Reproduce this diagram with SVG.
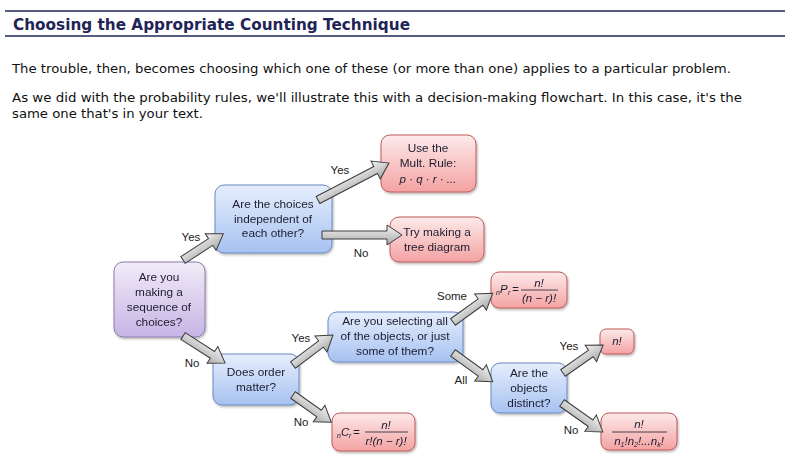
<svg xmlns="http://www.w3.org/2000/svg" width="796" height="474" viewBox="0 0 796 474">
<defs>
<style>
.title{font-family:"DejaVu Sans",Verdana,sans-serif;font-weight:bold;font-size:15px;fill:#1f2456}
.body{font-family:"DejaVu Sans",Tahoma,sans-serif;font-size:12.5px;fill:#111}
.nt{font-family:"Liberation Sans",Arial,sans-serif;font-size:11.8px;fill:#1c1c30;text-anchor:middle}
.lab{font-family:"Liberation Sans",Arial,sans-serif;font-size:11.5px;fill:#222;text-anchor:middle}
.fm{font-family:"Liberation Sans",Arial,sans-serif;font-size:11.5px;font-style:italic;fill:#1c1c30}
.fs{font-family:"Liberation Sans",Arial,sans-serif;font-size:7px;font-style:italic;fill:#1c1c30}
.blue{fill:url(#gBlue);stroke:#6b8ac0;stroke-width:1}
.red{fill:url(#gRed);stroke:#c05a5a;stroke-width:1}
.purple{fill:url(#gPur);stroke:#8c7aaa;stroke-width:1}
.box{filter:url(#sh)}
.arr{fill:url(#gArr);stroke:#3c3c3c;stroke-width:1;stroke-linejoin:miter}
.fl{stroke:#1c1c30;stroke-width:0.8}
.hl{stroke:#1f2456;stroke-width:1.5}
</style>
<linearGradient id="gBlue" x1="0" y1="0" x2="0" y2="1"><stop offset="0" stop-color="#e6eefc"/><stop offset="1" stop-color="#a6c2f1"/></linearGradient>
<linearGradient id="gRed" x1="0" y1="0" x2="0" y2="1"><stop offset="0" stop-color="#fdeaea"/><stop offset="1" stop-color="#f4a2a2"/></linearGradient>
<linearGradient id="gPur" x1="0" y1="0" x2="0" y2="1"><stop offset="0" stop-color="#f1ecf8"/><stop offset="1" stop-color="#c7b4e5"/></linearGradient>
<linearGradient id="gArr" x1="0" y1="0" x2="0" y2="1"><stop offset="0" stop-color="#f4f4f4"/><stop offset="1" stop-color="#a9a9a9"/></linearGradient>
<filter id="sh" x="-10%" y="-10%" width="130%" height="140%"><feDropShadow dx="1" dy="1.5" stdDeviation="1.2" flood-color="#000" flood-opacity="0.3"/></filter>
</defs>
<rect width="796" height="474" fill="#fff"/>
<g id="header">
<line class="hl" x1="5" y1="11" x2="785" y2="11"/>
<text class="title" x="13" y="30" textLength="397" lengthAdjust="spacingAndGlyphs">Choosing the Appropriate Counting Technique</text>
<line class="hl" x1="5" y1="36" x2="785" y2="36"/>
<text class="body" x="12" y="73" textLength="719" lengthAdjust="spacingAndGlyphs">The trouble, then, becomes choosing which one of these (or more than one) applies to a particular problem.</text>
<text class="body" x="12" y="102" textLength="730" lengthAdjust="spacingAndGlyphs">As we did with the probability rules, we'll illustrate this with a decision-making flowchart. In this case, it's the</text>
<text class="body" x="12" y="118" textLength="191" lengthAdjust="spacingAndGlyphs">same one that's in your text.</text>
</g>
<g id="n-start" class="box"><rect class="purple" x="114" y="262" width="91" height="75" rx="9"/>
<text class="nt" x="159" y="281">Are you</text><text class="nt" x="159" y="296">making a</text><text class="nt" x="159" y="311">sequence of</text><text class="nt" x="159" y="326">choices?</text></g>
<g id="n-indep" class="box"><rect class="blue" x="215" y="185" width="117" height="68" rx="9"/>
<text class="nt" x="273" y="208">Are the choices</text><text class="nt" x="273" y="223">independent of</text><text class="nt" x="273" y="237">each other?</text></g>
<g id="n-mult" class="box"><rect class="red" x="381" y="135" width="95" height="57" rx="9"/>
<text class="nt" x="428" y="152">Use the</text><text class="nt" x="428" y="167">Mult. Rule:</text><text class="fm" x="428" y="183" text-anchor="middle" font-size="9.5">p · q · r · ...</text></g>
<g id="n-tree" class="box"><rect class="red" x="390" y="217" width="94" height="45" rx="9"/>
<text class="nt" x="437" y="236">Try making a</text><text class="nt" x="437" y="251">tree diagram</text></g>
<g id="n-order" class="box"><rect class="blue" x="213" y="354" width="86" height="51" rx="9"/>
<text class="nt" x="256" y="376">Does order</text><text class="nt" x="256" y="391">matter?</text></g>
<g id="n-select" class="box"><rect class="blue" x="328" y="312" width="135" height="50" rx="9"/>
<text class="nt" x="395" y="325">Are you selecting all</text><text class="nt" x="395" y="340">of the objects, or just</text><text class="nt" x="395" y="355">some of them?</text></g>
<g id="n-ncr" class="box"><rect class="red" x="332" y="413" width="83" height="38" rx="8"/>
<text class="fs" x="337" y="438">n</text><text class="fm" x="341" y="436">C</text><text class="fs" x="349" y="438">r</text><text class="fm" x="353" y="436" font-style="normal">=</text>
<text class="fm" x="386" y="429" text-anchor="middle">n!</text><line class="fl" x1="365" y1="432" x2="408" y2="432"/><text class="fm" x="386" y="445" text-anchor="middle">r!(n − r)!</text></g>
<g id="n-npr" class="box"><rect class="red" x="491" y="272" width="76" height="36" rx="8"/>
<text class="fs" x="496" y="295">n</text><text class="fm" x="500" y="293">P</text><text class="fs" x="508" y="295">r</text><text class="fm" x="512" y="293" font-style="normal">=</text>
<text class="fm" x="539" y="287" text-anchor="middle">n!</text><line class="fl" x1="521" y1="290" x2="558" y2="290"/><text class="fm" x="539" y="302" text-anchor="middle">(n − r)!</text></g>
<g id="n-nfact" class="box"><rect class="red" x="600" y="329" width="34" height="25" rx="6"/>
<text class="fm" x="617" y="345" text-anchor="middle">n!</text></g>
<g id="n-distinct" class="box"><rect class="blue" x="491" y="363" width="76" height="50" rx="9"/>
<text class="nt" x="529" y="377">Are the</text><text class="nt" x="529" y="392">objects</text><text class="nt" x="529" y="407">distinct?</text></g>
<g id="n-multi" class="box"><rect class="red" x="601" y="413" width="76" height="37" rx="8"/>
<text class="fm" x="639" y="428" text-anchor="middle">n!</text><line class="fl" x1="612" y1="432" x2="667" y2="432"/>
<text class="fm" x="639" y="445" text-anchor="middle" font-size="10.5">n<tspan font-size="7" dy="2">1</tspan><tspan dy="-2">!n</tspan><tspan font-size="7" dy="2">2</tspan><tspan dy="-2">!...n</tspan><tspan font-size="7" dy="2">k</tspan><tspan dy="-2">!</tspan></text></g>
<g id="connectors">
<path class="arr" transform="translate(183,260) rotate(-33)" d="M0,-4H33V-10L48,0L33,10V4H0Z"/>
<path class="arr" transform="translate(318,200) rotate(-27.5)" d="M0,-4H65V-10L80,0L65,10V4H0Z"/>
<path class="arr" transform="translate(322,235)" d="M0,-4H65V-10L80,0L65,10V4H0Z"/>
<path class="arr" transform="translate(183,336) rotate(32.7)" d="M0,-4H35V-10L50,0L35,10V4H0Z"/>
<path class="arr" transform="translate(293,365) rotate(-36.9)" d="M0,-4H35V-10L50,0L35,10V4H0Z"/>
<path class="arr" transform="translate(293,395) rotate(35.4)" d="M0,-4H32V-10L47,0L32,10V4H0Z"/>
<path class="arr" transform="translate(453,322) rotate(-35.9)" d="M0,-4H34V-10L49,0L34,10V4H0Z"/>
<path class="arr" transform="translate(453,353) rotate(35.9)" d="M0,-4H34V-10L49,0L34,10V4H0Z"/>
<path class="arr" transform="translate(563,373) rotate(-35)" d="M0,-4H34V-10L49,0L34,10V4H0Z"/>
<path class="arr" transform="translate(562,403) rotate(35.3)" d="M0,-4H35V-10L50,0L35,10V4H0Z"/>
<text class="lab" x="191" y="241">Yes</text>
<text class="lab" x="340" y="174">Yes</text>
<text class="lab" x="361" y="257">No</text>
<text class="lab" x="192" y="367">No</text>
<text class="lab" x="301" y="342">Yes</text>
<text class="lab" x="301" y="426">No</text>
<text class="lab" x="452" y="300">Some</text>
<text class="lab" x="461" y="384">All</text>
<text class="lab" x="569" y="350">Yes</text>
<text class="lab" x="571" y="434">No</text>
</g>
</svg>
